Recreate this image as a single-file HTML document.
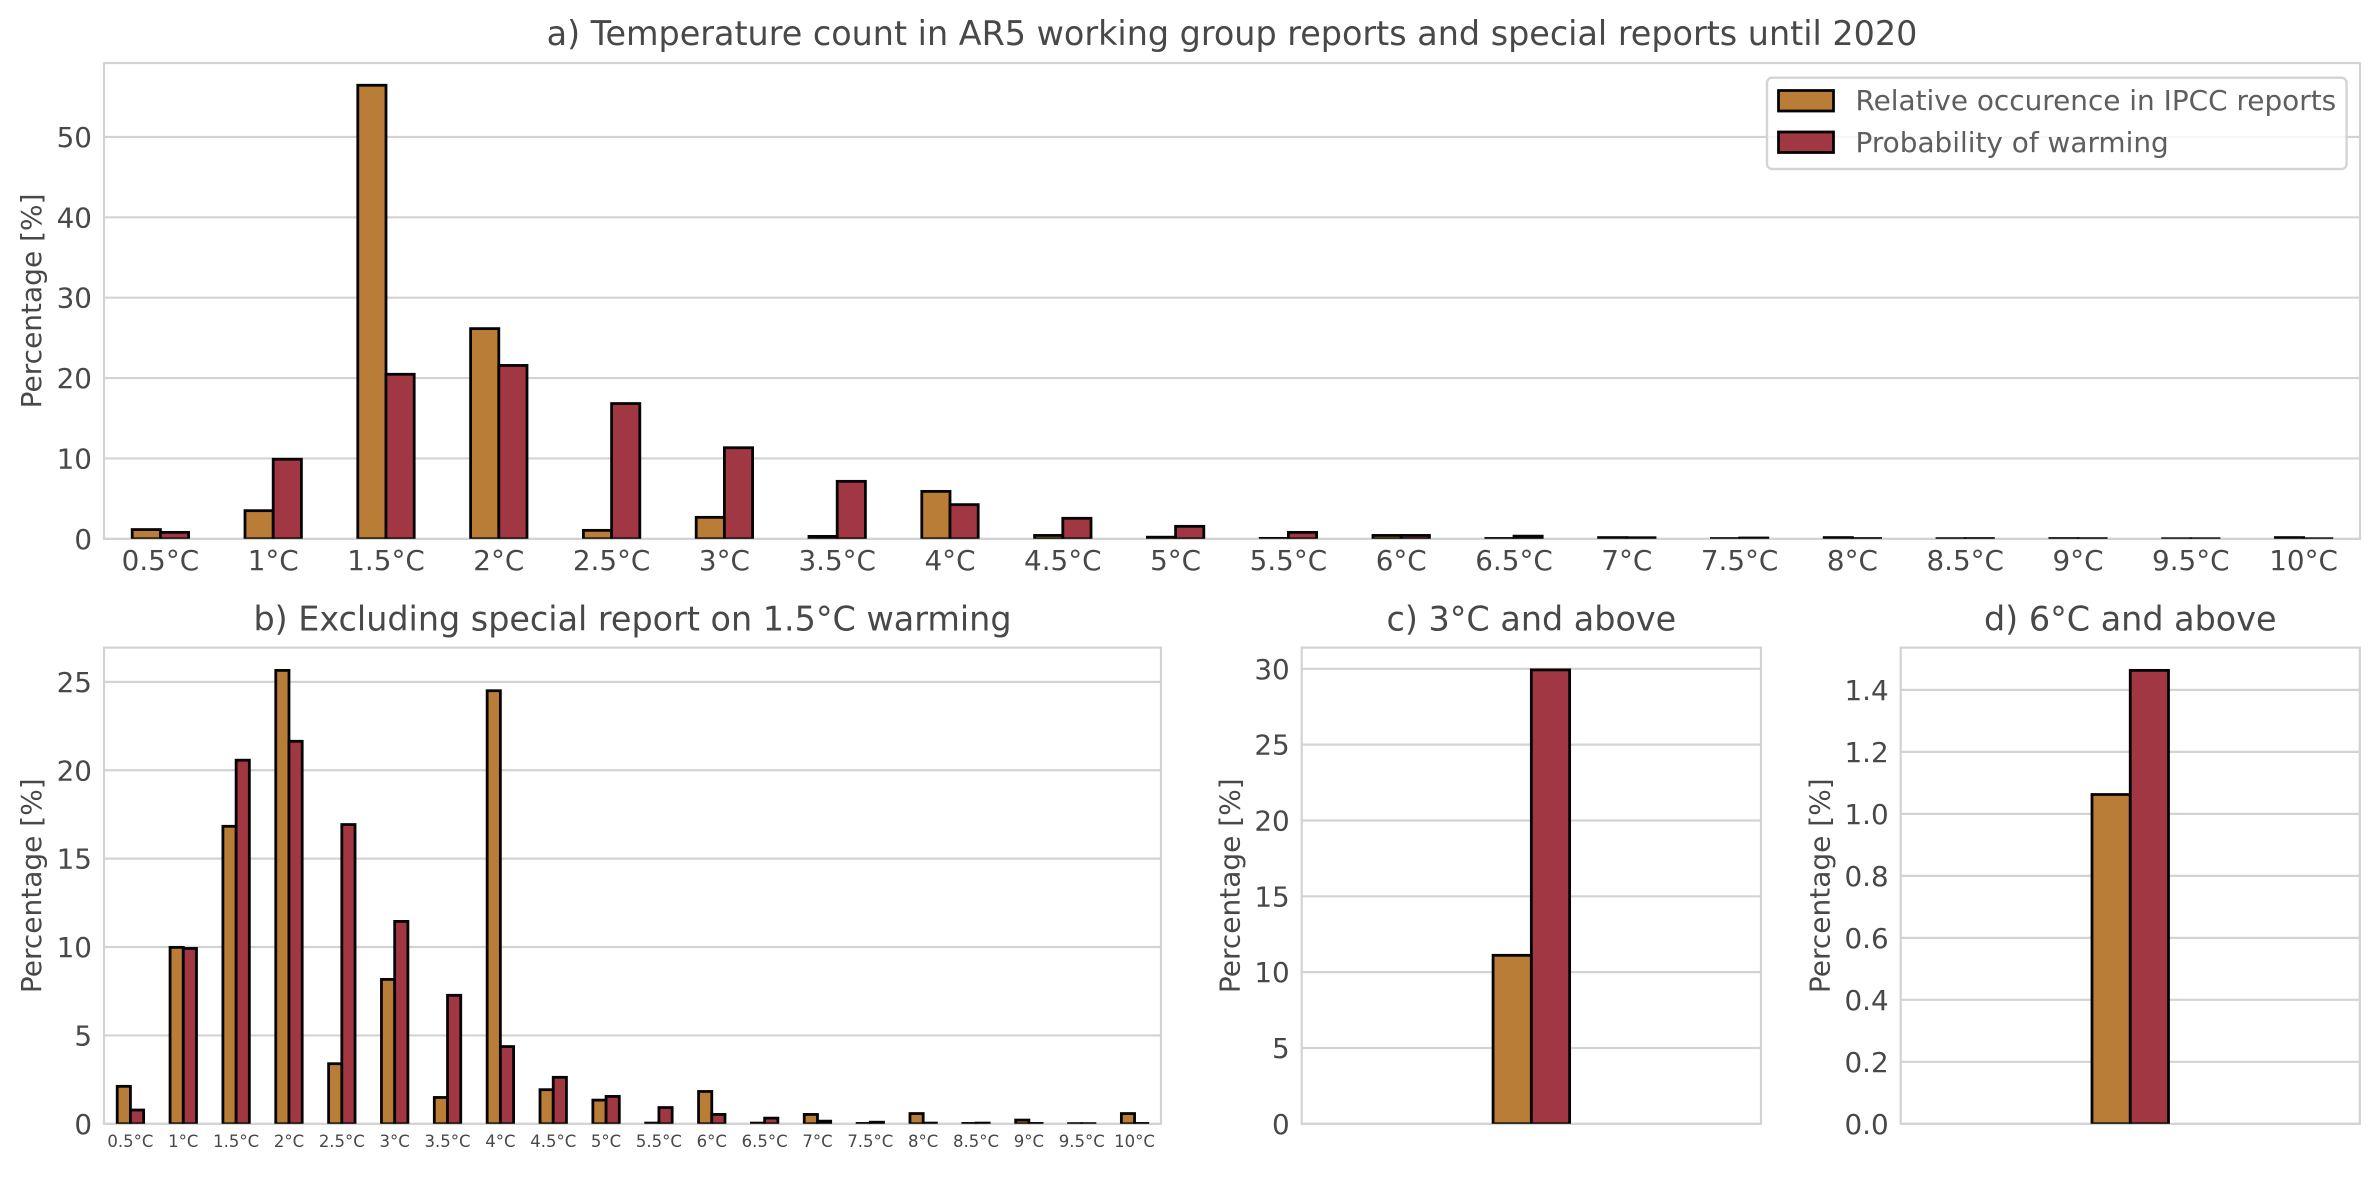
<!DOCTYPE html>
<html lang="en">
<head>
<meta charset="utf-8">
<title>Temperature count in AR5 reports</title>
<style>
html,body{margin:0;padding:0;background:#fff;width:2379px;height:1182px;overflow:hidden}
svg{display:block}
text{font-family:"DejaVu Sans","Liberation Sans",sans-serif;fill:#484848}
</style>
</head>
<body>
<svg id="figure" xmlns="http://www.w3.org/2000/svg" width="2379" height="1182" viewBox="0 0 2379 1182"></svg>
<script>
const temperatureCategories = ['0.5°C','1°C','1.5°C','2°C','2.5°C','3°C','3.5°C','4°C','4.5°C','5°C','5.5°C','6°C','6.5°C','7°C','7.5°C','8°C','8.5°C','9°C','9.5°C','10°C'];
const reportsAll = [1.15,3.5,56.43,26.15,1.05,2.67,0.3,5.9,0.42,0.2,0.05,0.42,0.04,0.15,0.03,0.15,0.02,0.03,0.01,0.15];
const warmingAll = [0.8,9.9,20.47,21.57,16.83,11.33,7.15,4.25,2.55,1.55,0.8,0.42,0.33,0.13,0.1,0.03,0.03,0.02,0.01,0.01];
const reportsExcl = [2.12,9.98,16.83,25.65,3.4,8.17,1.49,24.5,1.93,1.34,0.04,1.83,0.04,0.53,0.02,0.58,0.02,0.21,0.01,0.58];
const warmingExcl = [0.78,9.92,20.57,21.64,16.93,11.45,7.27,4.37,2.63,1.55,0.92,0.53,0.32,0.15,0.09,0.04,0.04,0.02,0.01,0.02];
const reportsAbove3 = [11.11];
const warmingAbove3 = [29.93];
const reportsAbove6 = [1.0625];
const warmingAbove6 = [1.463];
const ticksA = [0,10,20,30,40,50];
const ticksB = [0,5,10,15,20,25];
const ticksC = [0,5,10,15,20,25,30];
const ticksD = ['0.0','0.2','0.4','0.6','0.8','1.0','1.2','1.4'];
const seriesNames = ['Relative occurence in IPCC reports','Probability of warming'];

const svg = document.getElementById('figure');
const NS = 'http://www.w3.org/2000/svg';
const ORANGE = '#BA7D37';
const RED = '#A13743';
const GRID = '#d3d3d3';

function make(tag, attrs, parent, content) {
  const el = document.createElementNS(NS, tag);
  for (const k in attrs) el.setAttribute(k, attrs[k]);
  if (content !== undefined) el.textContent = content;
  parent.appendChild(el);
  return el;
}

function drawPanel(p) {
  const group = make('g', {}, svg);
  
  

  const x = v => p.left + (v - p.xMin) / (p.xMax - p.xMin) * (p.right - p.left);
  const y = v => p.bottom - v / p.yMax * (p.bottom - p.top);

  const frame = make('rect', {x: p.left, y: p.top, width: p.right - p.left, height: p.bottom - p.top, fill: '#fff', stroke: GRID, 'stroke-width': 2.2}, group);
  
  

  p.ticks.forEach(t => {
    const v = parseFloat(t);
    const line = make('line', {x1: p.left, x2: p.right, y1: y(v), y2: y(v), stroke: GRID, 'stroke-width': 2.2}, group);
    
    
    const label = make('text', {x: p.left - 12, y: y(v) + 10, 'text-anchor': 'end', 'font-size': 27.8}, group, String(t));
    
    
  });

  const clip = make('clipPath', {id: p.id + '-clip'}, group);
  make('rect', {x: p.left, y: p.top, width: p.right - p.left, height: p.bottom - p.top}, clip);

  const bars = make('g', {'clip-path': 'url(#' + p.id + '-clip)'}, group);
  
  

  [[p.reports, ORANGE, -1, 'reports'], [p.warming, RED, 0, 'warming']].forEach(([values, color, offset, key]) => {
    values.forEach((v, i) => {
      const x0 = x(i + offset * p.barWidth);
      const x1 = x(i + (offset + 1) * p.barWidth);
      const bar = make('rect', {x: x0, y: y(v), width: x1 - x0, height: y(0) - y(v), fill: color, stroke: '#050505', 'stroke-width': 2.8}, bars);
      
      
    });
  });

  p.categories.forEach((c, i) => {
    if (!c) return;
    const label = make('text', {x: x(i), y: p.xLabelY, 'text-anchor': 'middle', 'font-size': p.xFont}, group, c);
    
    
  });

  const title = make('text', {x: (p.left + p.right) / 2, y: p.titleY, 'text-anchor': 'middle', 'font-size': 33.4}, group, p.title);
  
  

  const cy = (p.top + p.bottom) / 2;
  const ylabel = make('text', {x: p.yLabelX, y: cy, 'text-anchor': 'middle', 'font-size': 28, transform: 'rotate(-90 ' + p.yLabelX + ' ' + cy + ')'}, group, 'Percentage [%]');
  
  
}

drawPanel({id:'panel-a', left:104, right:2360, top:63, bottom:538.8, xMin:-0.5, xMax:19.5, yMax:59.2, barWidth:0.25,
  categories:temperatureCategories, reports:reportsAll, warming:warmingAll, ticks:ticksA,
  title:'a) Temperature count in AR5 working group reports and special reports until 2020',
  titleY:45, xLabelY:570, xFont:27.8, yLabelX:41});
drawPanel({id:'panel-b', left:104, right:1161, top:647.6, bottom:1123.8, xMin:-0.5, xMax:19.5, yMax:26.94, barWidth:0.25,
  categories:temperatureCategories, reports:reportsExcl, warming:warmingExcl, ticks:ticksB,
  title:'b) Excluding special report on 1.5°C warming',
  titleY:630.5, xLabelY:1147, xFont:16.5, yLabelX:41});
drawPanel({id:'panel-c', left:1301.7, right:1761, top:647.6, bottom:1123.8, xMin:-3, xMax:3, yMax:31.4, barWidth:0.5,
  categories:[''], reports:reportsAbove3, warming:warmingAbove3, ticks:ticksC,
  title:'c) 3°C and above',
  titleY:630.5, xLabelY:1147, xFont:16, yLabelX:1239.5});
drawPanel({id:'panel-d', left:1900.7, right:2359.8, top:647.6, bottom:1123.8, xMin:-3, xMax:3, yMax:1.5365, barWidth:0.5,
  categories:[''], reports:reportsAbove6, warming:warmingAbove6, ticks:ticksD,
  title:'d) 6°C and above',
  titleY:630.5, xLabelY:1147, xFont:16, yLabelX:1829.6});

const legend = make('g', {}, svg);


const legendBox = make('rect', {x:1767, y:77.7, width:579.6, height:91.3, rx:5, ry:5, fill:'#fff', 'fill-opacity':0.8, stroke:'#d4d4d4', 'stroke-width':2.4}, legend);


[[ORANGE, 90.5, 110], [RED, 132, 152]].forEach(([color, top, base], i) => {
  const swatch = make('rect', {x:1778.5, y:top, width:55, height:20.5, fill:color, stroke:'#050505', 'stroke-width':2.8}, legend);
  
  
  const label = make('text', {x:1855.5, y:base, 'font-size':27.9, style:'fill:#5e5e5e'}, legend, seriesNames[i]);
  
  
});
</script>
</body>
</html>
